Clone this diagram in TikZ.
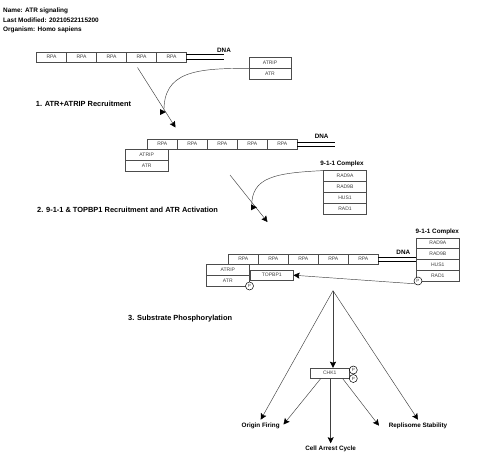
\documentclass[tikz,border=0pt]{standalone}
\usepackage{fontspec}
\setmainfont{Liberation Sans}
\usetikzlibrary{arrows.meta,positioning}
\tikzset{
  box/.style={draw=black!70,line width=0.5pt,rectangle,inner sep=0pt,outer sep=0pt,font=\fontsize{5}{6}\selectfont,text=black!75},
  rpa/.style={box,minimum width=1.05cm,minimum height=0.36cm},
  prot/.style={box,minimum width=1.48cm,minimum height=0.38cm},
  ring/.style={box,shape=circle,minimum size=0.28cm,fill=white,draw=black,font=\fontsize{4.5}{5}\selectfont},
  title/.style={font=\bfseries\fontsize{6.4}{7}\selectfont,inner sep=0pt},
  steplab/.style={font=\bfseries\fontsize{7.4}{8}\selectfont,inner sep=0pt},
  lab/.style={font=\bfseries\fontsize{6.3}{7}\selectfont,inner sep=0pt},
  bare/.style={draw=black!75,line width=0.45pt},
  link/.style={bare,-{Stealth[length=6pt,width=6pt,inset=1pt,color=black]}},
  dna/.style={line width=0.8pt}
}
\begin{document}
\begin{tikzpicture}[x=0.035cm,y=-0.035cm,>=Stealth]
\useasboundingbox (0,0) rectangle (480,471);
\fill[white] (0,0) rectangle (480,471);
% header
\node[title,anchor=west] (name) at (3,11) {Name: ATR signaling};
\node[title,anchor=west] (modified) at (3,20.3) {Last Modified: 20210522115200};
\node[title,anchor=west] (organism) at (3,29.7) {Organism: Homo sapiens};
% step 1
\node[rpa] (a1) at (51.5,57) {RPA};
\node[rpa,right=0pt of a1] (a2) {RPA};
\node[rpa,right=0pt of a2] (a3) {RPA};
\node[rpa,right=0pt of a3] (a4) {RPA};
\node[rpa,right=0pt of a4] (a5) {RPA};
\draw[dna] ([yshift=0.08cm]a5.east) -- ++(38,0);
\draw[dna] ([yshift=-0.08cm]a5.east) -- ++(38,0);
\node[lab] (dnaa) at (224,50.5) {DNA};
\node[prot] (atripa) at (270,63) {ATRIP};
\node[prot,below=0pt of atripa] (atra) {ATR};
\node[steplab,anchor=west] (stepa) at (35.7,103.5) {1. ATR+ATRIP Recruitment};
\coordinate (sa) at (137.5,67.5);
\coordinate (ea) at (175.5,127.5);
\coordinate (ta) at (166,112);
\draw[link] (sa) -- (ea);
\draw[bare] (atripa.south west) .. controls (195,68) and (163,72) .. (164,112);
\fill (ta) -- ++(-6,-3) -- ++(0,6) -- cycle;
% step 2
\node[rpa] (b1) at (162.3,144.2) {RPA};
\node[rpa,right=0pt of b1] (b2) {RPA};
\node[rpa,right=0pt of b2] (b3) {RPA};
\node[rpa,right=0pt of b3] (b4) {RPA};
\node[rpa,right=0pt of b4] (b5) {RPA};
\draw[dna] ([yshift=0.08cm]b5.east) -- ++(38,0);
\draw[dna] ([yshift=-0.08cm]b5.east) -- ++(38,0);
\node[lab] (dnab) at (321.7,136.7) {DNA};
\node[prot] (atripb) at (146.7,155.1) {ATRIP};
\node[prot,below=0pt of atripb] (atrb) {ATR};
\node[lab] (complexb) at (342,164.3) {9-1-1 Complex};
\node[prot,minimum width=1.52cm] (rad9ab) at (345,176) {RAD9A};
\node[prot,minimum width=1.52cm,below=0pt of rad9ab] (rad9bb) {RAD9B};
\node[prot,minimum width=1.52cm,below=0pt of rad9bb] (hus1b) {HUS1};
\node[prot,minimum width=1.52cm,below=0pt of hus1b] (rad1b) {RAD1};
\node[steplab,anchor=west] (stepb) at (37,209.5) {2. 9-1-1 \& TOPBP1 Recruitment and ATR Activation};
\coordinate (sb) at (230,175);
\coordinate (eb) at (267.5,222);
\coordinate (tb) at (257,207.3);
\draw[link] (sb) -- (eb);
\draw[bare] (rad9ab.north west) .. controls (275,173) and (251,177) .. (251.7,207);
\fill (tb) -- ++(-6,-3) -- ++(0,6) -- cycle;
% step 3
\node[rpa] (c1) at (243.3,259.2) {RPA};
\node[rpa,right=0pt of c1] (c2) {RPA};
\node[rpa,right=0pt of c2] (c3) {RPA};
\node[rpa,right=0pt of c3] (c4) {RPA};
\node[rpa,right=0pt of c4] (c5) {RPA};
\draw[dna] ([yshift=0.08cm]c5.east) -- ++(38,0);
\draw[dna] ([yshift=-0.08cm]c5.east) -- ++(38,0);
\node[lab] (dnac) at (403.3,252.7) {DNA};
\node[prot] (atripc) at (227.8,269.8) {ATRIP};
\node[prot,below=0pt of atripc] (atrc) {ATR};
\node[prot,minimum width=1.52cm] (topbp) at (271.8,275.2) {TOPBP1};
\node[lab] (complexc) at (437.3,231.7) {9-1-1 Complex};
\node[prot,minimum width=1.52cm] (rad9ac) at (437.8,243.2) {RAD9A};
\node[prot,minimum width=1.52cm,below=0pt of rad9ac] (rad9bc) {RAD9B};
\node[prot,minimum width=1.52cm,below=0pt of rad9bc] (hus1c) {HUS1};
\node[prot,minimum width=1.52cm,below=0pt of hus1c] (rad1c) {RAD1};
\node[ring] (patr) at (249.5,286) {P};
\node[ring] (prad) at (418,281) {P};
\draw[link] (prad.south west) -- (topbp.east);
\node[steplab,anchor=west] (stepc) at (128,319) {3. Substrate Phosphorylation};
\coordinate (fan) at (333,290.7);
\node[box,minimum width=1.38cm,minimum height=0.38cm] (chk) at (329.7,373.2) {CHK1};
\node[ring] (pchka) at (353.3,370) {P};
\node[ring] (pchkb) at (353.3,378.5) {P};
\node[lab] (origin) at (260.7,425.7) {Origin Firing};
\node[lab] (cell) at (330.7,449.3) {Cell Arrest Cycle};
\node[lab] (replisome) at (418,425.7) {Replisome Stability};
\coordinate (toorigin) at (283.5,424.5);
\coordinate (toright) at (379,425.7);
\draw[link] (fan) -- ([yshift=0.1cm]origin.north);
\draw[link] (fan) -- (chk.north -| fan);
\draw[link] (fan) -- ([yshift=0.1cm]replisome.north);
\draw[link] (chk.south -| 320.7,0) -- (toorigin);
\draw[link] (chk.south -| cell) -- ([yshift=0.1cm]cell.north);
\draw[link] (chk.south -| 342.7,0) -- (toright);
\end{tikzpicture}
\end{document}
